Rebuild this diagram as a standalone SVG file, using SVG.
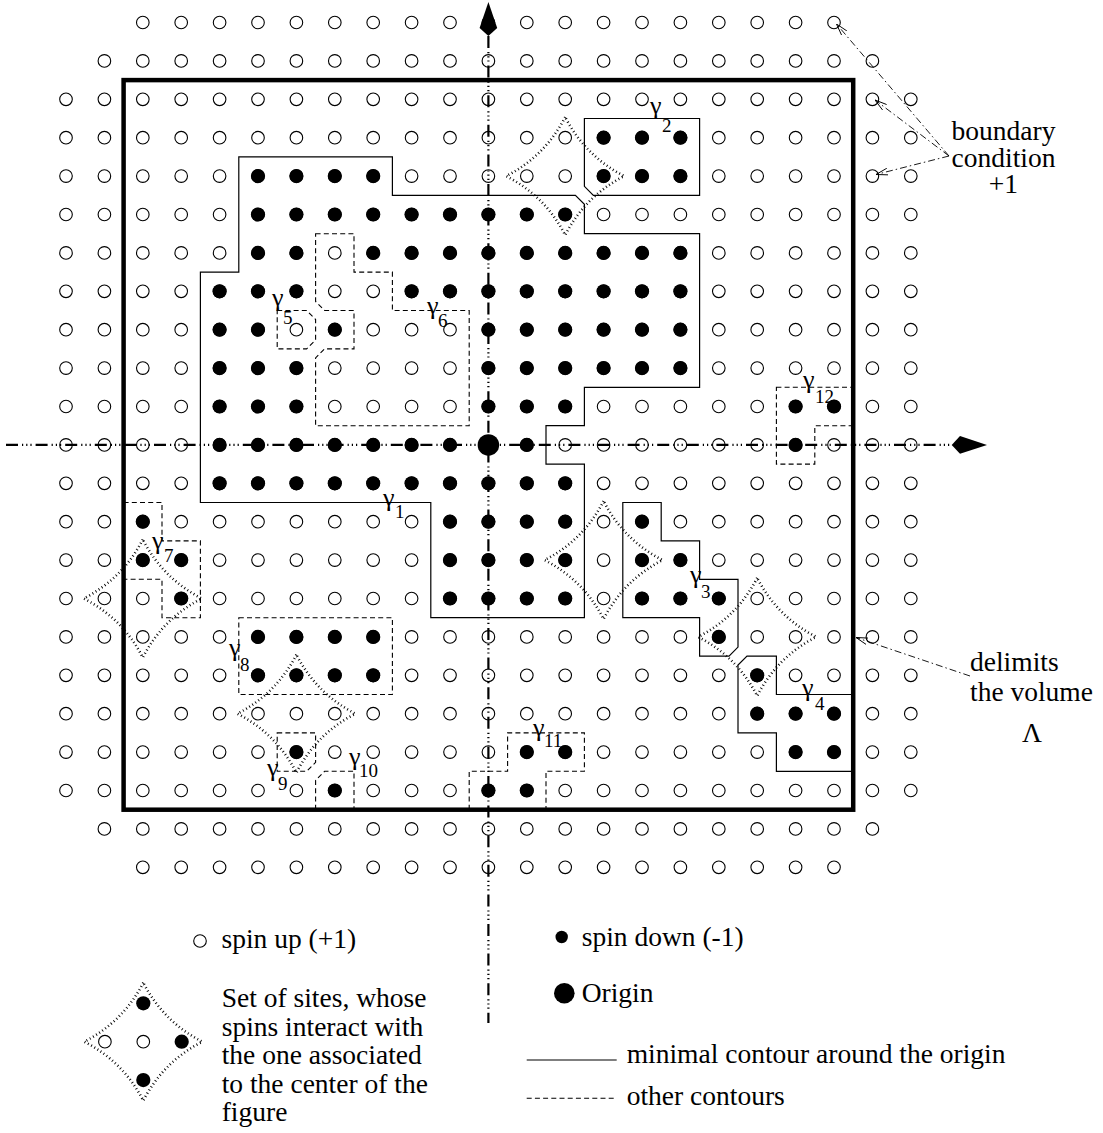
<svg xmlns="http://www.w3.org/2000/svg" width="1103" height="1133" viewBox="0 0 1103 1133">
<defs>
<style>
.o{fill:none;stroke:#000;stroke-width:1.1}
.f{fill:#000}
.ct{fill:none;stroke:#000;stroke-width:1.2}
.dc{fill:none;stroke:#000;stroke-width:1.1;stroke-dasharray:5 3.2}
.st{fill:none;stroke:#000;stroke-width:2.6;stroke-dasharray:0.9 2.8}
.ax{fill:none;stroke:#000;stroke-width:2.2;stroke-dasharray:12 4 1.2 3 1.2 3 1.2 4}
.ld{fill:none;stroke:#000;stroke-width:0.9;stroke-dasharray:7 3 1.5 3}
text{font-family:"Liberation Serif","Times New Roman",serif;fill:#000}
.t{font-size:27.5px}
.g{font-size:26px}
.s{font-size:19px}
</style>
<g id="r19">
<circle class="o" cx="142.8" cy="0" r="6.3"/><circle class="o" cx="181.2" cy="0" r="6.3"/><circle class="o" cx="219.6" cy="0" r="6.3"/><circle class="o" cx="258" cy="0" r="6.3"/><circle class="o" cx="296.4" cy="0" r="6.3"/><circle class="o" cx="334.8" cy="0" r="6.3"/><circle class="o" cx="373.2" cy="0" r="6.3"/><circle class="o" cx="411.6" cy="0" r="6.3"/><circle class="o" cx="450" cy="0" r="6.3"/><circle class="o" cx="488.4" cy="0" r="6.3"/><circle class="o" cx="526.8" cy="0" r="6.3"/><circle class="o" cx="565.2" cy="0" r="6.3"/><circle class="o" cx="603.6" cy="0" r="6.3"/><circle class="o" cx="642" cy="0" r="6.3"/><circle class="o" cx="680.4" cy="0" r="6.3"/><circle class="o" cx="718.8" cy="0" r="6.3"/><circle class="o" cx="757.2" cy="0" r="6.3"/><circle class="o" cx="795.6" cy="0" r="6.3"/><circle class="o" cx="834" cy="0" r="6.3"/>
</g>
<g id="r21"><use href="#r19"/><circle class="o" cx="104.4" cy="0" r="6.3"/><circle class="o" cx="872.4" cy="0" r="6.3"/></g>
<g id="r23"><use href="#r21"/><circle class="o" cx="66" cy="0" r="6.3"/><circle class="o" cx="910.8" cy="0" r="6.3"/></g>
<path id="star" d="M0,-59 Q-20,-20 -59,0 Q-20,20 0,59 Q20,20 59,0 Q20,-20 0,-59 Z"/>
<marker id="ah" viewBox="0 0 12 8" refX="12" refY="4" markerWidth="12" markerHeight="8" markerUnits="userSpaceOnUse" orient="auto"><path d="M0,0.6 L12,4 L0,7.4" fill="none" stroke="#000" stroke-width="0.9"/></marker>
</defs>
<rect width="1103" height="1133" fill="#fff"/>

<g id="lattice">
<use href="#r19" y="22.5"/>
<use href="#r21" y="60.9"/>
<use href="#r23" y="99.3"/>
<use href="#r23" y="137.7"/>
<use href="#r23" y="176.1"/>
<use href="#r23" y="214.5"/>
<use href="#r23" y="252.9"/>
<use href="#r23" y="291.3"/>
<use href="#r23" y="329.7"/>
<use href="#r23" y="368.1"/>
<use href="#r23" y="406.5"/>
<use href="#r23" y="444.9"/>
<use href="#r23" y="483.3"/>
<use href="#r23" y="521.7"/>
<use href="#r23" y="560.1"/>
<use href="#r23" y="598.5"/>
<use href="#r23" y="636.9"/>
<use href="#r23" y="675.3"/>
<use href="#r23" y="713.7"/>
<use href="#r23" y="752.1"/>
<use href="#r23" y="790.5"/>
<use href="#r21" y="828.9"/>
<use href="#r19" y="867.3"/>
</g>

<g id="spins-down" class="f" transform="matrix(38.4 0 0 38.4 66 22.5)">
<circle cx="14" cy="3" r=".185"/><circle cx="15" cy="3" r=".185"/><circle cx="16" cy="3" r=".185"/>
<circle cx="5" cy="4" r=".185"/><circle cx="6" cy="4" r=".185"/><circle cx="7" cy="4" r=".185"/><circle cx="8" cy="4" r=".185"/><circle cx="14" cy="4" r=".185"/><circle cx="15" cy="4" r=".185"/><circle cx="16" cy="4" r=".185"/>
<circle cx="5" cy="5" r=".185"/><circle cx="6" cy="5" r=".185"/><circle cx="7" cy="5" r=".185"/><circle cx="8" cy="5" r=".185"/><circle cx="9" cy="5" r=".185"/><circle cx="10" cy="5" r=".185"/><circle cx="11" cy="5" r=".185"/><circle cx="12" cy="5" r=".185"/><circle cx="13" cy="5" r=".185"/>
<circle cx="5" cy="6" r=".185"/><circle cx="6" cy="6" r=".185"/><circle cx="8" cy="6" r=".185"/><circle cx="9" cy="6" r=".185"/><circle cx="10" cy="6" r=".185"/><circle cx="11" cy="6" r=".185"/><circle cx="12" cy="6" r=".185"/><circle cx="13" cy="6" r=".185"/><circle cx="14" cy="6" r=".185"/><circle cx="15" cy="6" r=".185"/><circle cx="16" cy="6" r=".185"/>
<circle cx="4" cy="7" r=".185"/><circle cx="5" cy="7" r=".185"/><circle cx="6" cy="7" r=".185"/><circle cx="9" cy="7" r=".185"/><circle cx="10" cy="7" r=".185"/><circle cx="11" cy="7" r=".185"/><circle cx="12" cy="7" r=".185"/><circle cx="13" cy="7" r=".185"/><circle cx="14" cy="7" r=".185"/><circle cx="15" cy="7" r=".185"/><circle cx="16" cy="7" r=".185"/>
<circle cx="4" cy="8" r=".185"/><circle cx="5" cy="8" r=".185"/><circle cx="7" cy="8" r=".185"/><circle cx="11" cy="8" r=".185"/><circle cx="12" cy="8" r=".185"/><circle cx="13" cy="8" r=".185"/><circle cx="14" cy="8" r=".185"/><circle cx="15" cy="8" r=".185"/><circle cx="16" cy="8" r=".185"/>
<circle cx="4" cy="9" r=".185"/><circle cx="5" cy="9" r=".185"/><circle cx="6" cy="9" r=".185"/><circle cx="11" cy="9" r=".185"/><circle cx="12" cy="9" r=".185"/><circle cx="13" cy="9" r=".185"/><circle cx="14" cy="9" r=".185"/><circle cx="15" cy="9" r=".185"/><circle cx="16" cy="9" r=".185"/>
<circle cx="4" cy="10" r=".185"/><circle cx="5" cy="10" r=".185"/><circle cx="6" cy="10" r=".185"/><circle cx="11" cy="10" r=".185"/><circle cx="12" cy="10" r=".185"/><circle cx="13" cy="10" r=".185"/><circle cx="19" cy="10" r=".185"/><circle cx="20" cy="10" r=".185"/>
<circle cx="4" cy="11" r=".185"/><circle cx="5" cy="11" r=".185"/><circle cx="6" cy="11" r=".185"/><circle cx="7" cy="11" r=".185"/><circle cx="8" cy="11" r=".185"/><circle cx="9" cy="11" r=".185"/><circle cx="10" cy="11" r=".185"/><circle cx="12" cy="11" r=".185"/><circle cx="19" cy="11" r=".185"/>
<circle cx="4" cy="12" r=".185"/><circle cx="5" cy="12" r=".185"/><circle cx="6" cy="12" r=".185"/><circle cx="7" cy="12" r=".185"/><circle cx="8" cy="12" r=".185"/><circle cx="9" cy="12" r=".185"/><circle cx="10" cy="12" r=".185"/><circle cx="11" cy="12" r=".185"/><circle cx="12" cy="12" r=".185"/><circle cx="13" cy="12" r=".185"/>
<circle cx="2" cy="13" r=".185"/><circle cx="10" cy="13" r=".185"/><circle cx="11" cy="13" r=".185"/><circle cx="12" cy="13" r=".185"/><circle cx="13" cy="13" r=".185"/><circle cx="15" cy="13" r=".185"/>
<circle cx="2" cy="14" r=".185"/><circle cx="3" cy="14" r=".185"/><circle cx="10" cy="14" r=".185"/><circle cx="11" cy="14" r=".185"/><circle cx="12" cy="14" r=".185"/><circle cx="13" cy="14" r=".185"/><circle cx="15" cy="14" r=".185"/><circle cx="16" cy="14" r=".185"/>
<circle cx="3" cy="15" r=".185"/><circle cx="10" cy="15" r=".185"/><circle cx="11" cy="15" r=".185"/><circle cx="12" cy="15" r=".185"/><circle cx="13" cy="15" r=".185"/><circle cx="15" cy="15" r=".185"/><circle cx="16" cy="15" r=".185"/><circle cx="17" cy="15" r=".185"/>
<circle cx="5" cy="16" r=".185"/><circle cx="6" cy="16" r=".185"/><circle cx="7" cy="16" r=".185"/><circle cx="8" cy="16" r=".185"/><circle cx="17" cy="16" r=".185"/>
<circle cx="5" cy="17" r=".185"/><circle cx="6" cy="17" r=".185"/><circle cx="7" cy="17" r=".185"/><circle cx="8" cy="17" r=".185"/><circle cx="18" cy="17" r=".185"/>
<circle cx="18" cy="18" r=".185"/><circle cx="19" cy="18" r=".185"/><circle cx="20" cy="18" r=".185"/>
<circle cx="6" cy="19" r=".185"/><circle cx="12" cy="19" r=".185"/><circle cx="13" cy="19" r=".185"/><circle cx="19" cy="19" r=".185"/><circle cx="20" cy="19" r=".185"/>
<circle cx="7" cy="20" r=".185"/><circle cx="11" cy="20" r=".185"/><circle cx="12" cy="20" r=".185"/>
<circle cx="11" cy="11" r=".28"/>
</g>

<g id="axes">
<path class="ax" d="M488.4,36 V1023"/>
<path class="ax" d="M6,444.9 H952"/>
<path d="M488.4,2 L497.2,28 L488.4,36 L479.6,28 Z" fill="#000"/>
<path d="M987,444.9 L960,436.1 L951.7,444.9 L960,453.7 Z" fill="#000"/>
</g>

<g id="contours">
<path id="g1" class="ct" d="M200.4,272.1 L238.8,272.1 L238.8,156.9 L392.4,156.9 L392.4,195.3 L575.4,195.3 L584.4,204.3 L584.4,233.7 L699.6,233.7 L699.6,387.3 L584.4,387.3 L584.4,425.7 L546,425.7 L546,464.1 L584.4,464.1 L584.4,617.7 L430.8,617.7 L430.8,502.5 L200.4,502.5 Z"/>
<path id="g2" class="ct" d="M584.4,118.5 L699.6,118.5 L699.6,195.3 L593.4,195.3 L584.4,186.3 Z"/>
<path id="g3" class="ct" d="M622.8,502.5 L661.2,502.5 L661.2,540.9 L699.6,540.9 L699.6,579.3 L738,579.3 L738,647.1 L729,656.1 L699.6,656.1 L699.6,617.7 L622.8,617.7 Z"/>
<path id="g4" class="ct" d="M747,656.1 L776.4,656.1 L776.4,694.5 L853.2,694.5 L853.2,771.3 L776.4,771.3 L776.4,732.9 L738,732.9 L738,665.1 Z"/>
<path id="g5" class="dc" d="M277.2,310.5 L306.6,310.5 L315.6,319.5 L315.6,339.9 L306.6,348.9 L277.2,348.9 Z"/>
<path id="g6" class="dc" d="M315.6,233.7 L354,233.7 L354,272.1 L392.4,272.1 L392.4,310.5 L469.2,310.5 L469.2,425.7 L315.6,425.7 L315.6,357.9 L324.6,348.9 L354,348.9 L354,310.5 L324.6,310.5 L315.6,301.5 Z"/>
<path id="g7" class="dc" d="M123.6,502.5 L162,502.5 L162,540.9 L200.4,540.9 L200.4,617.7 L162,617.7 L162,579.3 L123.6,579.3"/>
<path id="g8" class="dc" d="M238.8,617.7 L392.4,617.7 L392.4,694.5 L238.8,694.5 Z"/>
<path id="g9" class="dc" d="M277.2,732.9 L315.6,732.9 L315.6,762.3 L306.6,771.3 L277.2,771.3 Z"/>
<path id="g10" class="dc" d="M315.6,809.7 L315.6,780.3 L324.6,771.3 L354,771.3 L354,809.7"/>
<path id="g11" class="dc" d="M469.2,809.7 L469.2,771.3 L507.6,771.3 L507.6,732.9 L584.4,732.9 L584.4,771.3 L546,771.3 L546,809.7"/>
<path id="g12" class="dc" d="M776.4,387.3 L853.2,387.3 L853.2,425.7 L814.8,425.7 L814.8,464.1 L776.4,464.1 Z"/>
</g>

<g id="interactions">
<use href="#star" class="st" x="565.2" y="176.1"/>
<use href="#star" class="st" x="603.6" y="560.1"/>
<use href="#star" class="st" x="757.2" y="636.9"/>
<use href="#star" class="st" x="142.8" y="598.5"/>
<use href="#star" class="st" x="296.4" y="713.7"/>
</g>

<rect id="volume" x="123.6" y="80.1" width="729.6" height="729.6" fill="none" stroke="#000" stroke-width="4.5"/>

<g id="labels">
<text class="g" x="383" y="506">γ<tspan class="s" x="395" y="518">1</tspan></text>
<text class="g" x="650" y="114">γ<tspan class="s" x="662" y="132">2</tspan></text>
<text class="g" x="690" y="583">γ<tspan class="s" x="701" y="598">3</tspan></text>
<text class="g" x="802" y="696">γ<tspan class="s" x="815" y="710">4</tspan></text>
<text class="g" x="272" y="306">γ<tspan class="s" x="283" y="324">5</tspan></text>
<text class="g" x="427" y="314">γ<tspan class="s" x="438" y="327">6</tspan></text>
<text class="g" x="152" y="549">γ<tspan class="s" x="164" y="562">7</tspan></text>
<text class="g" x="229" y="656">γ<tspan class="s" x="240" y="671">8</tspan></text>
<text class="g" x="267" y="776">γ<tspan class="s" x="278" y="790">9</tspan></text>
<text class="g" x="349" y="765">γ<tspan class="s" x="359" y="777">10</tspan></text>
<text class="g" x="533" y="736">γ<tspan class="s" x="544" y="747">11</tspan></text>
<text class="g" x="803" y="388">γ<tspan class="s" x="815" y="403">12</tspan></text>
</g>

<g id="annotations">
<path class="ld" d="M949,156 L836.5,24" marker-end="url(#ah)"/>
<path class="ld" d="M949,156 L875,100" marker-end="url(#ah)"/>
<path class="ld" d="M949,156 L876,174.5" marker-end="url(#ah)"/>
<path class="ld" d="M970,676 L856,637.5" marker-end="url(#ah)"/>
<text class="t" x="1003.5" y="140" text-anchor="middle">boundary</text>
<text class="t" x="1003.5" y="167" text-anchor="middle">condition</text>
<text class="t" x="1003.5" y="193" text-anchor="middle">+1</text>
<text class="t" x="970" y="671">delimits</text>
<text class="t" x="970" y="701">the volume</text>
<text class="t" x="1032" y="742" text-anchor="middle">Λ</text>
</g>

<g id="legend">
<circle class="o" cx="200" cy="941" r="6.3"/>
<text class="t" x="221.5" y="948">spin up (+1)</text>
<circle class="f" cx="561.7" cy="937" r="6.2"/>
<text class="t" x="581.7" y="946">spin down (-1)</text>
<circle class="f" cx="564.3" cy="993.3" r="10.3"/>
<text class="t" x="581.7" y="1002">Origin</text>
<path class="ct" d="M526.7,1060 H616.7"/>
<text class="t" x="626.7" y="1063">minimal contour around the origin</text>
<path class="dc" d="M526.7,1098.3 H616.7"/>
<text class="t" x="626.7" y="1105">other contours</text>
<use href="#star" class="st" x="143.3" y="1041.7"/>
<circle class="o" cx="143.3" cy="1041.7" r="6.3"/>
<circle class="o" cx="104.9" cy="1041.7" r="6.3"/>
<circle class="f" cx="143.3" cy="1003.3" r="7.1"/>
<circle class="f" cx="181.7" cy="1041.7" r="7.1"/>
<circle class="f" cx="143.3" cy="1080.1" r="7.1"/>
<text class="t"><tspan x="221.7" y="1007">Set of sites, whose</tspan><tspan x="221.7" y="1035.5">spins interact with</tspan><tspan x="221.7" y="1064">the one associated</tspan><tspan x="221.7" y="1092.5">to the center of the</tspan><tspan x="221.7" y="1121">figure</tspan></text>
</g>
</svg>
